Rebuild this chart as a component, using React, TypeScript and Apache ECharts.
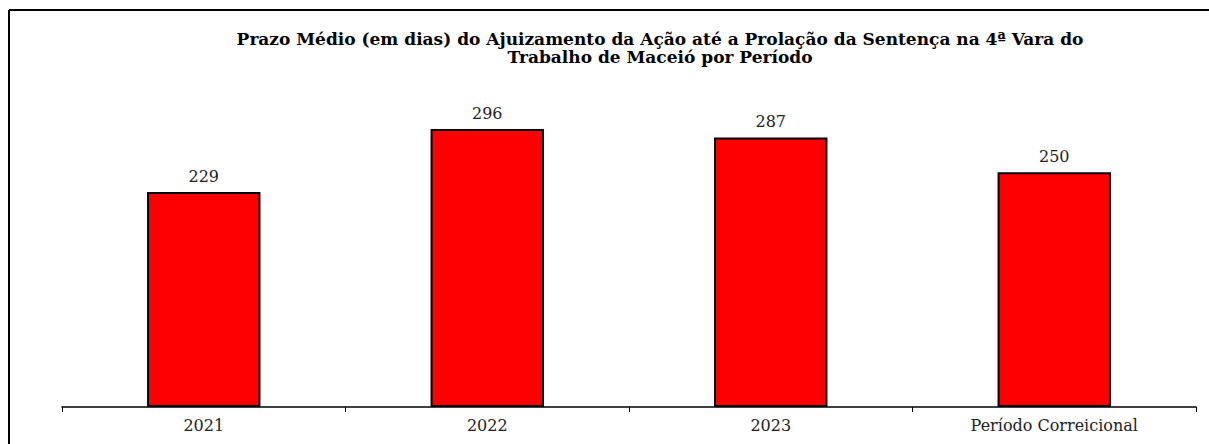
import React, { useEffect, useRef } from "react";
import * as echarts from "echarts";

const categories = ["2021", "2022", "2023", "Período Correicional"];
const values = [229, 296, 287, 250];
const titleText =
  "Prazo Médio (em dias) do Ajuizamento da Ação até a Prolação da Sentença na 4ª Vara do\nTrabalho de Maceió por Período";

const serif = "'DejaVu Serif', 'Liberation Serif', serif";

export default function App() {
  const ref = useRef<HTMLDivElement>(null);
  useEffect(() => {
    document.body.style.margin = "0";
    const chart = echarts.init(ref.current!, null, { renderer: "svg" });
    chart.setOption({
      animation: false,
      backgroundColor: "#ffffff",
      title: {
        text: titleText,
        left: 655,
        textAlign: "center",
        top: 25,
        textStyle: {
          fontFamily: serif,
          fontWeight: "bold",
          fontSize: 17,
          lineHeight: 18,
          color: "#000",
        },
      },
      graphic: [
        {
          type: "line",
          shape: { x1: 9, y1: 10, x2: 1209, y2: 10 },
          style: { stroke: "#000", lineWidth: 2 },
        },
        {
          type: "line",
          shape: { x1: 9, y1: 10, x2: 9, y2: 444 },
          style: { stroke: "#000", lineWidth: 2 },
        },
      ],
      grid: { left: 62, right: 13, top: 78.4, bottom: 37 },
      xAxis: {
        type: "category",
        data: categories,
        axisLine: { lineStyle: { color: "#000", width: 1.5 } },
        axisTick: { show: true, alignWithLabel: false, length: 5, lineStyle: { color: "#000" } },
        axisLabel: {
          fontFamily: serif,
          fontSize: 16,
          color: "#222",
          margin: 10,
        },
      },
      yAxis: {
        type: "value",
        min: 0,
        max: 350,
        show: false,
        splitLine: { show: false },
      },
      series: [
        {
          type: "bar",
          data: values,
          barWidth: "40%",
          itemStyle: { color: "#ff0000", borderColor: "#000", borderWidth: 2 },
          label: {
            show: true,
            position: "top",
            distance: 8,
            fontFamily: serif,
            fontSize: 16,
            color: "#222",
          },
        },
      ],
    });
    return () => chart.dispose();
  }, []);
  return <div ref={ref} style={{ width: 1209, height: 444 }} />;
}
